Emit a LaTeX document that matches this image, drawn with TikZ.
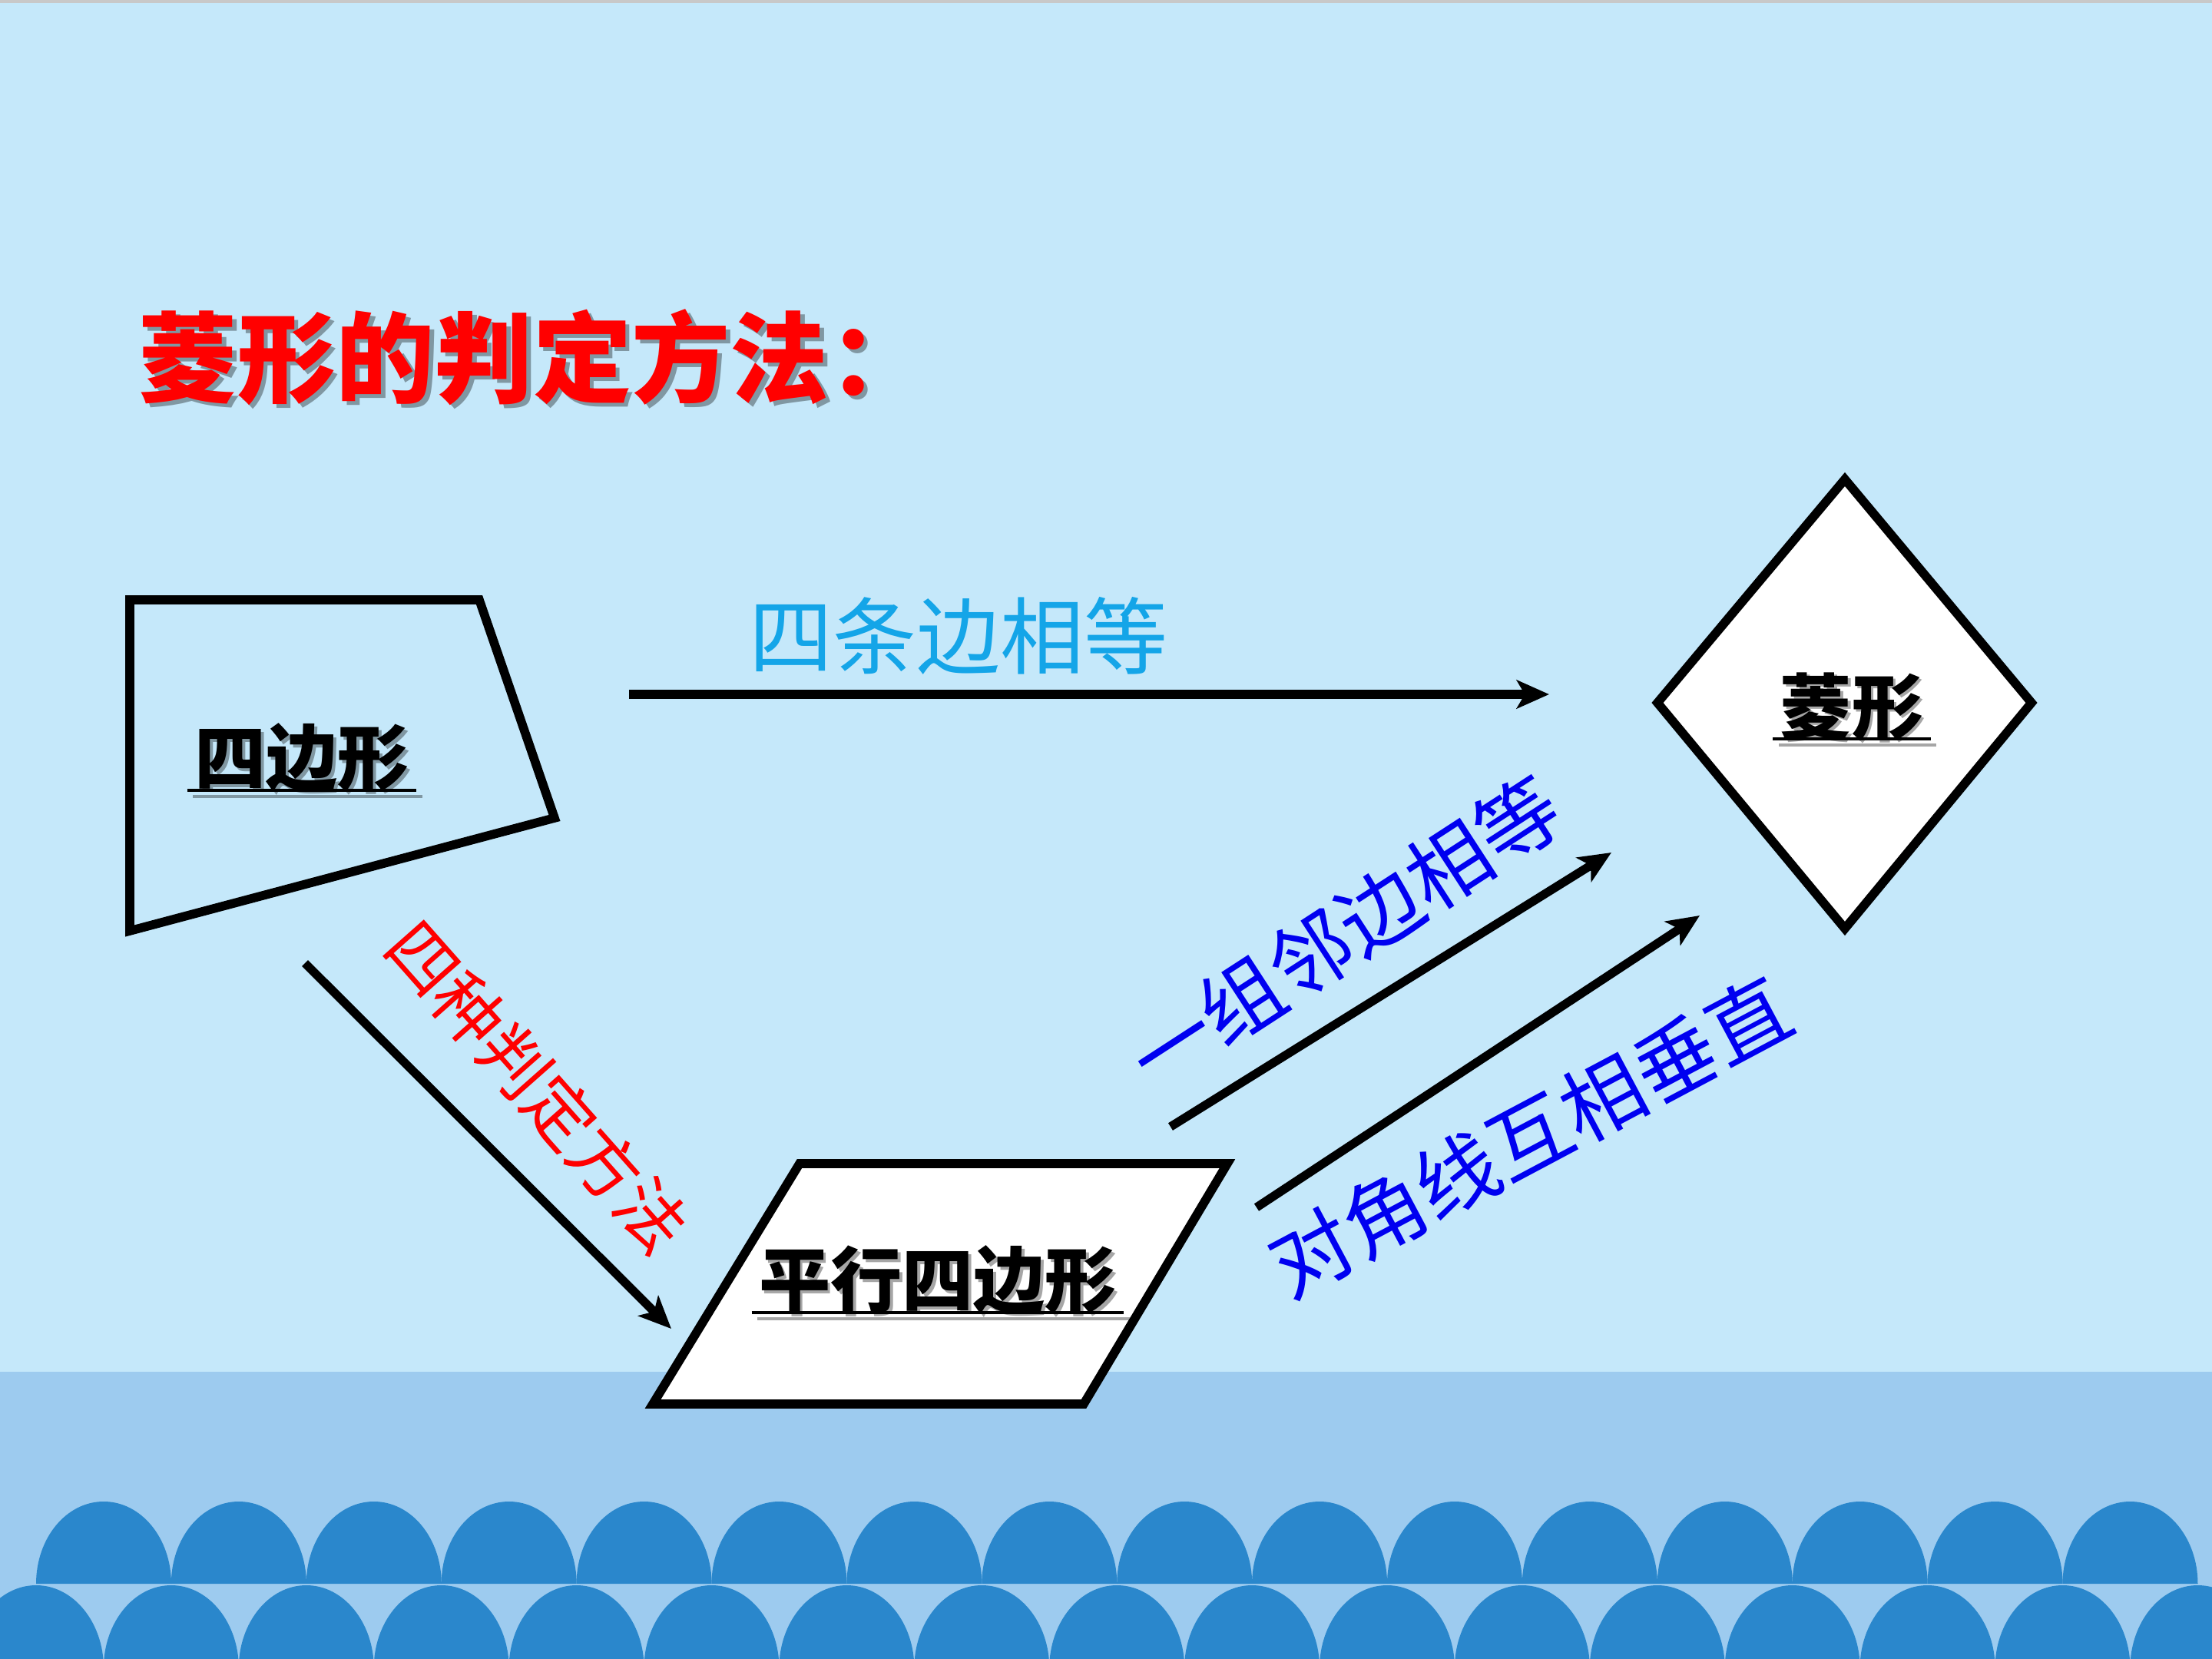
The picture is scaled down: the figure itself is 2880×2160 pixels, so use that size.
\documentclass[tikz,border=0pt]{standalone}
\usepackage{fontspec}
\newfontfamily\cjk{Noto Sans CJK SC}
\usetikzlibrary{arrows.meta}
\definecolor{bgtop}{HTML}{C5E8FA}
\definecolor{topgrey}{HTML}{C8C8C8}
\definecolor{sea}{HTML}{9DCBEF}
\definecolor{wave}{HTML}{2A87CC}
\definecolor{cyantxt}{HTML}{14A5E8}
\definecolor{bluetxt}{HTML}{0000F0}
\definecolor{redtxt}{HTML}{FF0000}
\tikzset{
  shapeline/.style={line width=3.3pt, line join=miter, draw=black},
  arr/.style={line width=3.2pt, -{Stealth[length=12pt,width=10.5pt,inset=3pt]}},
  lbl/.style={inner sep=0pt, font=\cjk\bfseries\fontsize{26.5pt}{26.5pt}\selectfont, text=black},
  lblsh/.style={lbl, opacity=0.35, xshift=1.1pt, yshift=-1.1pt},
  uline/.style={line width=1.1pt, draw=black},
  ulsh/.style={line width=1.1pt, draw=black, opacity=0.35},
  ttl/.style={anchor=west, inner sep=0pt, font=\cjk\bfseries\fontsize{36.5pt}{36.5pt}\selectfont, text=redtxt},
  ttlsh/.style={ttl, text=black, opacity=0.35, xshift=1.6pt, yshift=-1.6pt},
  cyanlbl/.style={inner sep=0pt, font=\cjk\fontsize{31pt}{31pt}\selectfont, text=cyantxt},
  redlbl/.style={inner sep=0pt, font=\cjk\fontsize{25.5pt}{25.5pt}\selectfont, text=redtxt},
  bluelbl/.style={inner sep=0pt, font=\cjk\fontsize{30.5pt}{30.5pt}\selectfont, text=bluetxt}
}
\newcommand\boxlabel[3]{%
  \node[lblsh] (#1sh) at (#2) {#3};
  \draw[ulsh] ([xshift=-1.4pt,yshift=-3.1pt]#1sh.base west) -- ([xshift=3.6pt,yshift=-3.1pt]#1sh.base east);
  \node[lbl] (#1) at (#2) {#3};
  \draw[uline] ([xshift=-2.5pt,yshift=-2pt]#1.base west) -- ([xshift=2.5pt,yshift=-2pt]#1.base east);
}
\begin{document}
\begin{tikzpicture}[x=0.01cm,y=-0.01cm]
\useasboundingbox (0,0) rectangle (2880,2160);
% background
\fill[bgtop] (0,0) rectangle (2880,2160);
\fill[topgrey] (0,0) rectangle (2880,4);
\fill[sea] (0,1786) rectangle (2880,2160);
% waves, upper row
\foreach \i in {0,...,15}{
  \pgfmathsetmacro\cx{135+175.9*\i}
  \fill[wave] (\cx-88,2062) .. controls (\cx-88,2003) and (\cx-49,1955) .. (\cx,1955)
              .. controls (\cx+49,1955) and (\cx+88,2003) .. (\cx+88,2062) -- cycle;
}
% waves, lower row
\foreach \i in {0,...,16}{
  \pgfmathsetmacro\cx{47+175.9*\i}
  \fill[wave] (\cx-88,2172) .. controls (\cx-88,2113) and (\cx-49,2064) .. (\cx,2064)
              .. controls (\cx+49,2064) and (\cx+88,2113) .. (\cx+88,2172) -- cycle;
}
% shapes
\draw[shapeline] (169,781) -- (624,781) -- (722,1065) -- (169,1212) -- cycle;
\draw[shapeline, fill=white] (1041,1515) -- (1598,1515) -- (1411,1828) -- (850,1828) -- cycle;
\draw[shapeline, fill=white] (2402,624) -- (2645,915) -- (2402,1209) -- (2158,915) -- cycle;
% arrows
\coordinate (a1s) at (819,904);   \coordinate (a1e) at (2017,904);
\coordinate (a2s) at (397,1254);  \coordinate (a2e) at (874,1730);
\coordinate (a3s) at (1524,1467); \coordinate (a3e) at (2098,1110);
\coordinate (a4s) at (1636,1572); \coordinate (a4e) at (2213,1192);
\draw[arr] (a1s) -- (a1e);
\draw[arr] (a2s) -- (a2e);
\draw[arr] (a3s) -- (a3e);
\draw[arr] (a4s) -- (a4e);
% title
\node[ttlsh] (titlesh) at (180,465) {菱形的判定方法：};
\node[ttl] (title) at (180,465) {菱形的判定方法：};
% shape labels
\boxlabel{quad}{393,987}{四边形}
\boxlabel{para}{1221,1667}{平行四边形}
\boxlabel{rhom}{2411,920}{菱形}
% arrow labels
\node[cyanlbl] (lab1) at (1248,828) {四条边相等};
\node[redlbl, rotate=-48.5] (lab2) at (700,1415) {四种判定方法};
\node[bluelbl, rotate=33] (lab3) at (1751,1214) {一组邻边相等};
\node[bluelbl, rotate=28] (lab4) at (1992,1480) {对角线互相垂直};
\end{tikzpicture}
\end{document}
